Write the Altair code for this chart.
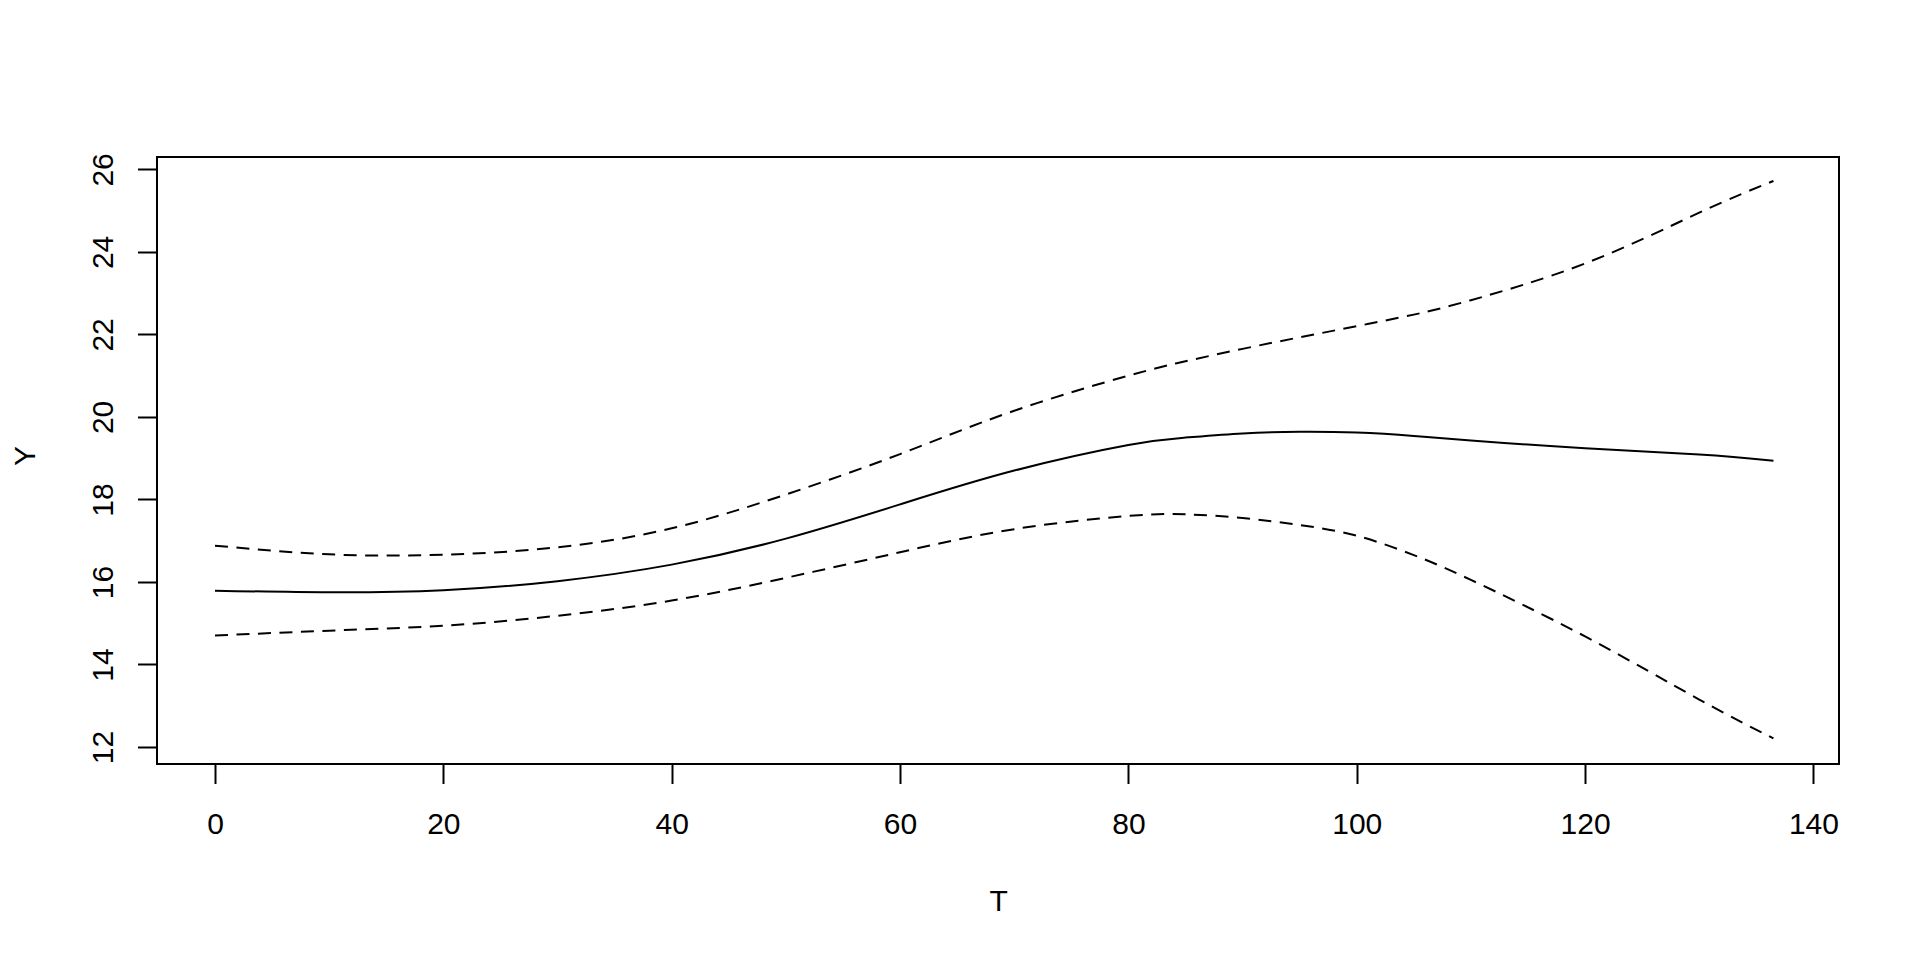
import altair as alt
import pandas as pd

# ---- data ----
T = [0, 10, 20, 30, 40, 50, 60, 70, 80, 85, 90, 95, 100, 105, 110, 120, 130, 136.5]
fit = [15.79, 15.75, 15.80, 16.02, 16.42, 17.05, 17.88, 18.70, 19.32, 19.50, 19.60, 19.64,
       19.62, 19.54, 19.43, 19.24, 19.09, 18.94]
upper = [16.88, 16.67, 16.66, 16.84, 17.30, 18.12, 19.10, 20.15, 21.00, 21.35, 21.65, 21.93,
         22.20, 22.48, 22.83, 23.72, 24.95, 25.72]
lower = [14.70, 14.82, 14.94, 15.18, 15.55, 16.10, 16.72, 17.28, 17.60, 17.64, 17.55, 17.38,
         17.12, 16.65, 16.05, 14.68, 13.15, 12.21]
x_ticks = [0, 20, 40, 60, 80, 100, 120, 140]
y_ticks = [12, 14, 16, 18, 20, 22, 24, 26]

df = pd.DataFrame({"T": T, "fit": fit, "upper": upper, "lower": lower})
band = df.melt(id_vars="T", value_vars=["upper", "lower"], var_name="band", value_name="Y")

FONT = "Liberation Sans"
FS = 30

xscale = alt.Scale(domain=[-5.08, 142.24], nice=False, zero=False)
yscale = alt.Scale(domain=[11.588, 26.30], nice=False, zero=False)

xaxis = alt.Axis(
    values=x_ticks, title="T", grid=False, domain=False,
    tickColor="black", tickSize=19.5, tickWidth=2,
    labelFont=FONT, labelFontSize=FS, labelColor="black",
    labelBaseline="alphabetic", labelAlign="center", labelPadding=50,
    labelFlush=False, labelOverlap=False,
    titleFont=FONT, titleFontSize=FS, titleFontWeight="normal", titleColor="black",
    titleX=841.2, titleY=146.7, titleAlign="center", titleBaseline="alphabetic", titleAngle=0,
)
yaxis = alt.Axis(
    values=y_ticks, title="Y", grid=False, domain=False,
    tickColor="black", tickSize=19.5, tickWidth=2,
    labelFont=FONT, labelFontSize=FS, labelColor="black",
    labelAngle=270, labelAlign="center", labelBaseline="alphabetic", labelPadding=25,
    labelFlush=False, labelOverlap=False,
    titleFont=FONT, titleFontSize=FS, titleFontWeight="normal", titleColor="black",
    titleX=-123, titleY=298.6, titleAlign="center", titleBaseline="alphabetic", titleAngle=270,
)

solid = alt.Chart(df).mark_line(color="black", strokeWidth=2, interpolate="natural").encode(
    x=alt.X("T:Q", scale=xscale, axis=xaxis),
    y=alt.Y("fit:Q", scale=yscale, axis=yaxis),
)

dashed = alt.Chart(band).mark_line(color="black", strokeWidth=2, strokeDash=[13, 8.5],
                                   interpolate="natural").encode(
    x=alt.X("T:Q", scale=xscale),
    y=alt.Y("Y:Q", scale=yscale),
    detail="band:N",
)

chart = (solid + dashed).properties(
    width=1682, height=607,
    autosize=alt.AutoSizeParams(type="none"),
    padding={"left": 149, "top": 149, "right": 60, "bottom": 180},
    background="white",
).configure_view(stroke="black", strokeWidth=2)

chart.save("out.html", embed_options={"renderer": "svg", "actions": False})
